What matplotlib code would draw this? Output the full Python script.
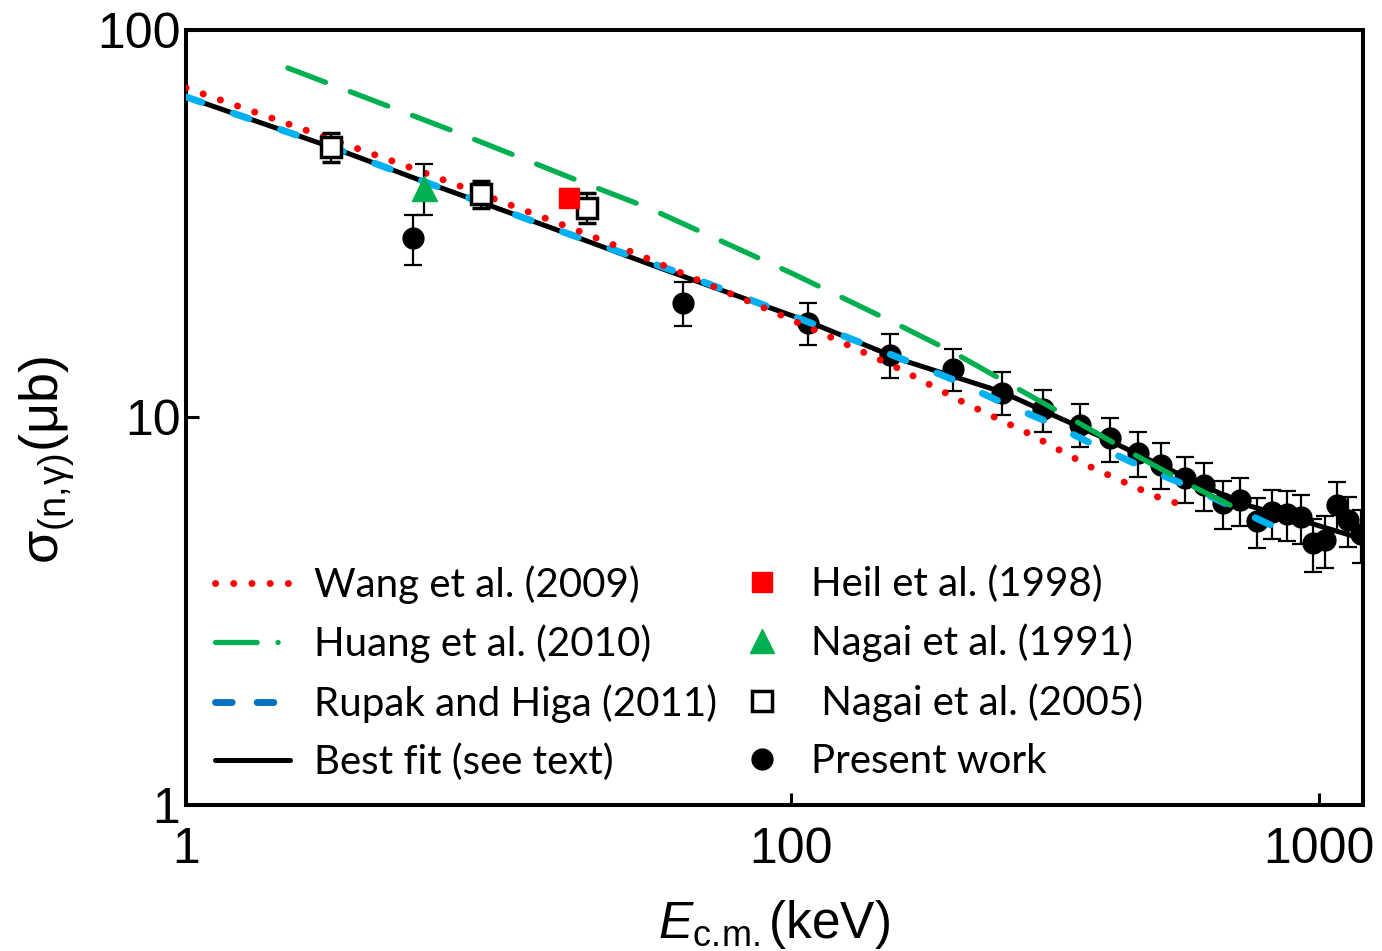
import matplotlib
matplotlib.use("Agg")
import matplotlib.pyplot as plt
from matplotlib.ticker import FixedLocator, FixedFormatter, NullLocator
from matplotlib.lines import Line2D

plt.rcParams['font.family'] = ['Liberation Sans', 'DejaVu Sans']
plt.rcParams['mathtext.fontset'] = 'custom'
plt.rcParams['mathtext.rm'] = 'Liberation Sans'
plt.rcParams['mathtext.it'] = 'Liberation Sans:italic'
plt.rcParams['lines.scale_dashes'] = False

# ---------------- data ----------------
# Wang et al. (2009) - dotted red
wang_x = [7.15, 9.62, 12.93, 18.66, 26.8, 38.65, 51.5, 68.4, 91.6, 121.7, 161.6, 212.7, 282.4, 371.6, 491.2, 569.8]
wang_y = [70.9, 61.5, 53.3, 44.6, 37.1, 30.7, 26.3, 22.3, 18.87, 15.9, 13.3, 10.93, 9.09, 7.43, 6.26, 5.86]

# Huang et al. (2010) - long dashed green
huang_x = [11.15, 14.68, 23.4, 40.55, 53.6, 100.9, 156.7, 203.6, 264.5, 342.1, 440.5, 577.4, 736.8]
huang_y = [79.8, 69.2, 54.3, 40.3, 34.8, 23.5, 17.58, 14.7, 12.02, 9.88, 8.12, 6.64, 5.62]

# Rupak and Higa (2011) - dashed blue
rupak_x = [7.15, 13.45, 20.2, 35.1, 62.7, 106.3, 163.7, 202.7, 248.7, 308.1, 381.5, 470.3, 579.9, 721.1, 877.4]
rupak_y = [67.2, 49.9, 40.6, 30.9, 23.4, 17.78, 14.1, 12.53, 11.0, 9.71, 8.41, 7.39, 6.56, 5.69, 5.02]

# Best fit - solid black
fit_x = [7.15, 13.45, 20.2, 35.1, 54.3, 107.7, 161.6, 249.8, 386.5, 597.6, 721.1, 924.6, 1216.0]
fit_y = [67.2, 49.9, 40.6, 30.9, 24.8, 17.7, 14.1, 11.67, 8.93, 6.72, 5.97, 5.43, 4.85]

# Heil et al. (1998)
heil_x = [38.0]
heil_y = [36.9]
heil_err = [1.9]

# Nagai et al. (1991)
nagai91_x = [20.2]
nagai91_y = [39.2]
nagai91_err = [5.9]

# Nagai et al. (2005)
nagai05_x = [13.45, 25.9, 41.1]
nagai05_y = [49.9, 37.8, 34.8]
nagai05_err = [4.3, 3.0, 3.1]

# Present work
pw_x = [19.24, 62.44, 107.7, 153.9, 202.7, 250.9, 300.1, 352.6, 402.0, 454.1, 502.1, 557.5,
        605.5, 658.0, 708.7, 763.2, 814.7, 869.8, 924.6, 974.1, 1026.6, 1081.7, 1134.8, 1201.0]
pw_y = [29.1, 19.8, 17.58, 14.53, 13.37, 11.6, 10.49, 9.59, 8.83, 8.08, 7.56, 6.96,
        6.68, 6.0, 6.11, 5.40, 5.69, 5.62, 5.52, 4.73, 4.82, 5.93, 5.43, 4.99]
pw_err = [4.3, 2.6, 2.2, 1.85, 1.65, 1.47, 1.32, 1.22, 1.14, 1.07, 1.02, 0.95,
          0.93, 0.84, 0.87, 0.79, 0.82, 0.83, 0.80, 0.74, 0.74, 0.87, 0.81, 0.78]

xtick_pos = [7.15, 100, 1000]
xtick_lab = ['1', '100', '1000']
ytick_pos = [1, 10, 100]
ytick_lab = ['1', '10', '100']

# ---------------- figure ----------------
W, H = 1382, 951
fig = plt.figure(figsize=(W / 100, H / 100), dpi=100)
ax = fig.add_axes([186 / W, 1 - 805 / H, (1363 - 186) / W, (805 - 30) / H])
ax.set_xscale('log')
ax.set_yscale('log')
ax.set_xlim(7.15, 1213)
ax.set_ylim(1, 100)

red = '#ff0000'
green = '#00b050'
blue = '#00b0f0'
blue_leg = '#0070c0'

ebkw = dict(ecolor='black', elinewidth=1.6, capsize=6.5, capthick=1.6)

ax.errorbar(pw_x, pw_y, yerr=pw_err, fmt='o', color='black', ms=15, zorder=3, **ebkw)
ax.plot(fit_x, fit_y, color='black', lw=3.6, zorder=3.5, solid_capstyle='butt')
ax.plot(rupak_x, rupak_y, color=blue, lw=5, linestyle=(0, (12, 24)),
        dash_capstyle='round', zorder=4)
ax.plot(huang_x, huang_y, color=green, lw=3.8, linestyle=(0, (29, 19)),
        dash_capstyle='round', zorder=4)
ax.plot(wang_x, wang_y, color=red, lw=5, linestyle=(0, (0.1, 13)),
        dash_capstyle='round', zorder=4)
ax.errorbar(nagai05_x, nagai05_y, yerr=nagai05_err, fmt='s', mfc='white', mec='black',
            mew=2.5, ms=14, zorder=5, **ebkw)
ax.errorbar(heil_x, heil_y, yerr=heil_err, fmt='s', color=red, ms=15, zorder=5, **ebkw)
ax.errorbar(nagai91_x, nagai91_y, yerr=nagai91_err, fmt='^', color=green, ms=18, zorder=5, **ebkw)

# ticks
ax.xaxis.set_major_locator(FixedLocator(xtick_pos))
ax.xaxis.set_major_formatter(FixedFormatter(xtick_lab))
ax.xaxis.set_minor_locator(NullLocator())
ax.yaxis.set_major_locator(FixedLocator(ytick_pos))
ax.yaxis.set_major_formatter(FixedFormatter(ytick_lab))
ax.yaxis.set_minor_locator(NullLocator())
ax.tick_params(axis='both', which='major', direction='in', length=9, width=2.2,
               labelsize=36)
ax.tick_params(axis='x', pad=16)
ax.tick_params(axis='y', pad=4)
for s in ax.spines.values():
    s.set_linewidth(2.9)

ax.set_xlabel('$\\mathit{E}_{\\mathrm{c.\\!m.}}$(keV)', fontsize=37, labelpad=18)
ax.set_ylabel('σ$_{\\mathrm{(n,\\!γ)}}$(μb)', fontsize=39)
ax.yaxis.set_label_coords(-0.093, 0.445)

# legends
lfont = dict(family='Lato', size=29)
h_wang = Line2D([], [], color=red, lw=5, linestyle=(0, (0.1, 13)), dash_capstyle='round')
h_huang = Line2D([], [], color=green, lw=3.8, linestyle=(0, (30, 15, 0.1, 15)), dash_capstyle='round')
h_rupak = Line2D([], [], color=blue_leg, lw=5, linestyle=(0, (12, 18)), dash_capstyle='round')
h_fit = Line2D([], [], color='black', lw=3.6, solid_capstyle='round')
leg1 = ax.legend([h_wang, h_huang, h_rupak, h_fit],
                 ['Wang et al. (2009)', 'Huang et al. (2010)', 'Rupak and Higa (2011)', 'Best fit (see text)'],
                 loc='upper left', bbox_to_anchor=(215 / W, 1 - 565 / H),
                 bbox_transform=fig.transFigure, frameon=False, prop=lfont,
                 handlelength=1.85, handletextpad=0.6, labelspacing=0.52,
                 borderpad=0, borderaxespad=0)
ax.add_artist(leg1)

h_heil = Line2D([], [], color=red, marker='s', ms=15, linestyle='none')
h_n91 = Line2D([], [], color=green, marker='^', ms=17, linestyle='none')
h_n05 = Line2D([], [], color='black', mfc='white', marker='s', ms=14, mew=2.5, linestyle='none')
h_pw = Line2D([], [], color='black', marker='o', ms=15, linestyle='none')
leg2 = ax.legend([h_heil, h_n91, h_n05, h_pw],
                 ['Heil et al. (1998)', 'Nagai et al. (1991)', ' Nagai et al. (2005)', 'Present work'],
                 loc='upper left', bbox_to_anchor=(738 / W, 1 - 565 / H),
                 bbox_transform=fig.transFigure, frameon=False, prop=lfont,
                 handlelength=1.2, handletextpad=0.62, labelspacing=0.52,
                 borderpad=0, borderaxespad=0)

fig.savefig('out.png', dpi=100)
